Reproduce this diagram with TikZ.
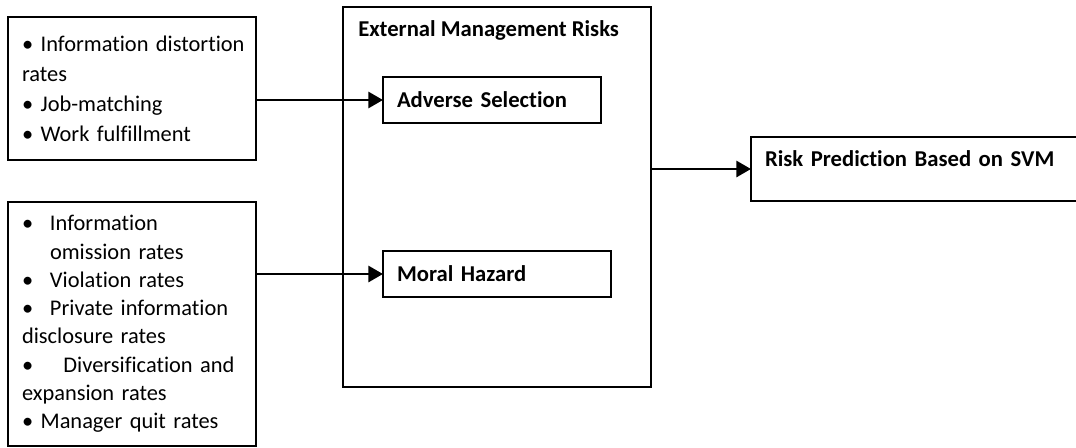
\documentclass[tikz,border=0pt]{standalone}
\usepackage{fontspec}
\setmainfont[Ligatures=NoCommon]{Carlito}
\usetikzlibrary{arrows.meta, positioning}

\newcommand{\bul}[1][21pt]{\makebox[#1][l]{\textbullet}}

\begin{document}
\begin{tikzpicture}[x=0.75pt, y=-0.75pt,
  factbox/.style={draw, line width=1.1pt, outer sep=0pt, anchor=north west, align=left, inner xsep=10.5pt, minimum width=186pt, text width=165pt, font=\fontsize{16.8}{22.5}\selectfont},
  riskbox/.style={draw, line width=1.1pt, outer sep=0pt, anchor=north west, align=left, inner xsep=10.5pt, minimum height=34.5pt, font=\fontsize{17}{20}\selectfont\bfseries},
  link/.style={line width=2.2pt, -{Triangle[length=11pt, width=12pt]}}
]
  \useasboundingbox (0,0) rectangle (1076,447);

  % input factors
  \node[factbox, minimum height=107.25pt] (adv factors) at (8,17) {
    \mbox{\textbullet\ Information distortion}\\
    rates\\
    \textbullet\ Job-matching\\
    \textbullet\ Work fulfillment
  };
  \node[factbox, minimum height=183pt, font=\fontsize{16.8}{21.2}\selectfont] (moral factors) at (8,202) {
    \bul Information\\
    \hspace*{21pt}omission rates\\
    \bul Violation rates\\
    \bul Private information\\
    disclosure rates\\
    \bul[25.5pt] Diversification and\\
    expansion rates\\
    \textbullet\ Manager quit rates
  };

  % external risks
  \node[draw, line width=1.1pt, outer sep=0pt, anchor=north west, minimum width=231pt, minimum height=285pt] (ext) at (343,7) {};
  \node[anchor=north west, inner sep=0pt, font=\fontsize{17}{20}\selectfont\bfseries] (ext title) at (358,20) {External Management Risks};
  \node[riskbox, minimum width=163.5pt, text width=142.5pt] (adverse) at (383,77) {Adverse Selection};
  \node[riskbox, minimum width=171pt, text width=150pt] (moral) at (383,251) {Moral Hazard};

  % output
  \node[riskbox, minimum width=248pt, text width=227pt, inner ysep=10pt, text height=12pt, text depth=16pt] (svm) at (751,137) {Risk Prediction Based on SVM};

  \draw[link] (adv factors.east |- adverse.west) -- (adverse.west);
  \draw[link] (moral factors.east |- moral.west) -- (moral.west);
  \draw[link] (ext.east |- svm.west) -- (svm.west);
\end{tikzpicture}
\end{document}
